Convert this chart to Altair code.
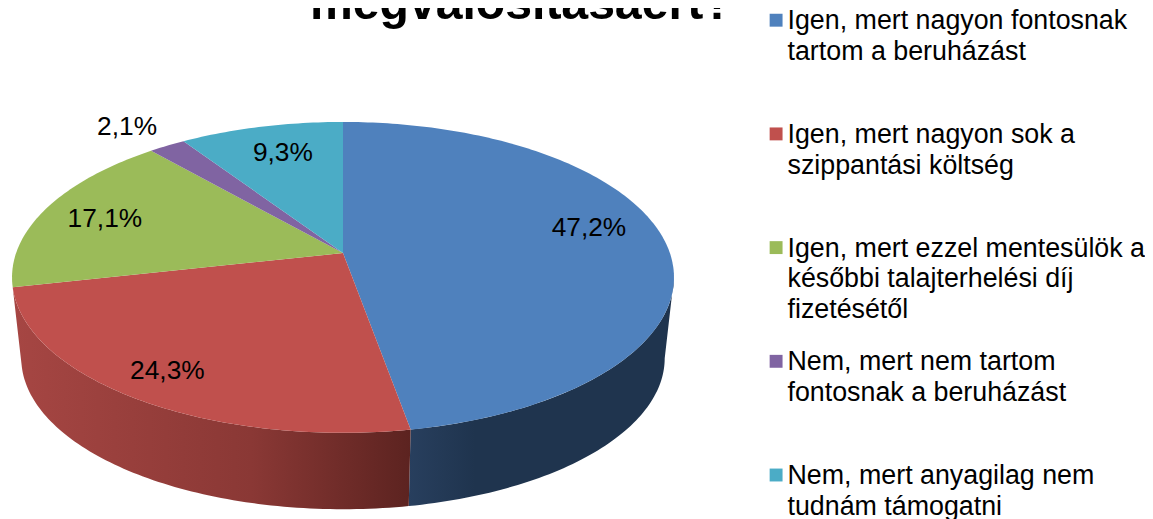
import math
import altair as alt
import pandas as pd

CATEGORIES = [
    "Igen, mert nagyon fontosnak\ntartom a beruházást",
    "Igen, mert nagyon sok a\nszippantási költség",
    "Igen, mert ezzel mentesülök a\nkésőbbi talajterhelési díj\nfizetésétől",
    "Nem, mert nem tartom\nfontosnak a beruházást",
    "Nem, mert anyagilag nem\ntudnám támogatni",
]
VALUES = [47.2, 24.3, 17.1, 2.1, 9.3]
VALUE_LABELS = ["47,2%", "24,3%", "17,1%", "2,1%", "9,3%"]
COLORS = ["#4F81BD", "#C0504D", "#9BBB59", "#8064A2", "#4BACC6"]
LABEL_RADIUS = [0.79, 0.844, 0.789, 1.221, 0.766]
LABEL_TURN = [-7.2, 0.9, -1.2, -1.2, 1.2]
TITLE = "megvalósításáért?"

# perspective view of the pie disc
CX, CY, AX, BY, PERSP = 343, 253, 326.9, 152.7, 0.1565
RIM_SCALE, RIM_DROP = 0.972, 82


def project(angle_deg, r=1.0):
    a = math.radians(angle_deg)
    u, v = r * math.sin(a), r * math.cos(a)
    w = 1 + PERSP * v
    return CX + AX * u / w, CY - BY * v / w


def lower(p):
    return CX + RIM_SCALE * (p[0] - CX), CY + RIM_SCALE * (p[1] - CY) + RIM_DROP


def arc(a0, a1):
    n = max(2, int(abs(a1 - a0)) + 1)
    return [a0 + (a1 - a0) * i / (n - 1) for i in range(n)]


top_rows, wall_rows, label_rows = [], [], []
cum = 0.0
total = sum(VALUES)
TANGENT = math.degrees(math.asin(PERSP))
for cat, val, lab, lr, lt in zip(CATEGORIES, VALUES, VALUE_LABELS, LABEL_RADIUS, LABEL_TURN):
    a0, a1 = cum / total * 360, (cum + val) / total * 360
    pts = [(CX, CY)] + [project(a) for a in arc(a0, a1)]
    for i, (x, y) in enumerate(pts):
        top_rows.append({"cat": cat, "x": x, "y": y, "o": i})
    vis0, vis1 = max(a0, 90 + TANGENT), min(a1, 270 - TANGENT)
    if vis1 > vis0:
        upper = [project(a) for a in arc(vis0, vis1)]
        ring = upper + [lower(p) for p in reversed(upper)]
        for i, (x, y) in enumerate(ring):
            wall_rows.append({"cat": cat, "x": x, "y": y, "o": i})
    lx, ly = project((a0 + a1) / 2 + lt, lr)
    label_rows.append({"x": lx, "y": ly, "t": lab})
    cum += val

top_df = pd.DataFrame(top_rows)
wall_df = pd.DataFrame(wall_rows)
label_df = pd.DataFrame(label_rows)

X = alt.X("x:Q", scale=alt.Scale(domain=[8, 1145], nice=False, zero=False), axis=None)
Y = alt.Y("y:Q", scale=alt.Scale(domain=[519, 8], nice=False, zero=False), axis=None)

blue_wall = alt.Gradient(
    gradient="linear", x1=0, x2=1, y1=0, y2=0,
    stops=[alt.GradientStop(color="#283F5E", offset=0), alt.GradientStop(color="#1F344E", offset=0.25),
           alt.GradientStop(color="#1F344E", offset=1)],
)
red_wall = alt.Gradient(
    gradient="linear", x1=0, x2=1, y1=0, y2=0,
    stops=[alt.GradientStop(color="#A64643", offset=0), alt.GradientStop(color="#8A3835", offset=0.6),
           alt.GradientStop(color="#5C2320", offset=1)],
)


def wall(i, grad):
    return alt.Chart(wall_df[wall_df.cat == CATEGORIES[i]]).mark_line(
        filled=True, fill=grad, strokeWidth=0
    ).encode(x=X, y=Y, order="o:Q")


top = alt.Chart(top_df).mark_line(filled=True, strokeWidth=0).encode(
    x=X, y=Y, order="o:Q", detail="cat:N",
    color=alt.Color(
        "cat:N",
        scale=alt.Scale(domain=CATEGORIES, range=COLORS),
        legend=alt.Legend(
            title=None, orient="none", legendX=758, legendY=-15, padding=0,
            symbolType="M-0.692,0.846H1.308V2.846H-0.692Z", symbolSize=169, symbolStrokeWidth=0, symbolOpacity=1,
            labelExpr="split(datum.label, '\\n')",
            labelFont="Liberation Sans", labelFontSize=27, labelColor="#000000",
            labelLimit=0, labelOffset=0, labelBaseline="top",
            gridAlign="all", columns=1, rowPadding=12.5,
        ),
    ),
)

labels = alt.Chart(label_df).mark_text(
    font="Liberation Sans", fontSize=26.5, color="#000000", align="center", baseline="middle"
).encode(x=X, y=Y, text="t:N")

chart = alt.layer(wall(0, blue_wall), wall(1, red_wall), top, labels).properties(
    width=1145, height=511, padding=0, autosize=alt.AutoSizeParams(type="none"),
    title=alt.TitleParams(
        TITLE, anchor="start", frame="group", font="Liberation Sans", fontSize=48.5, fontWeight="bold",
        color="#000000", baseline="alphabetic", dx=304, dy=73, offset=0,
    ),
    config=alt.Config(view=alt.ViewConfig(strokeWidth=0), style={"guide-label": {"lineHeight": 31}}),
)

chart.save("out.html", embed_options={"renderer": "svg", "actions": False})
